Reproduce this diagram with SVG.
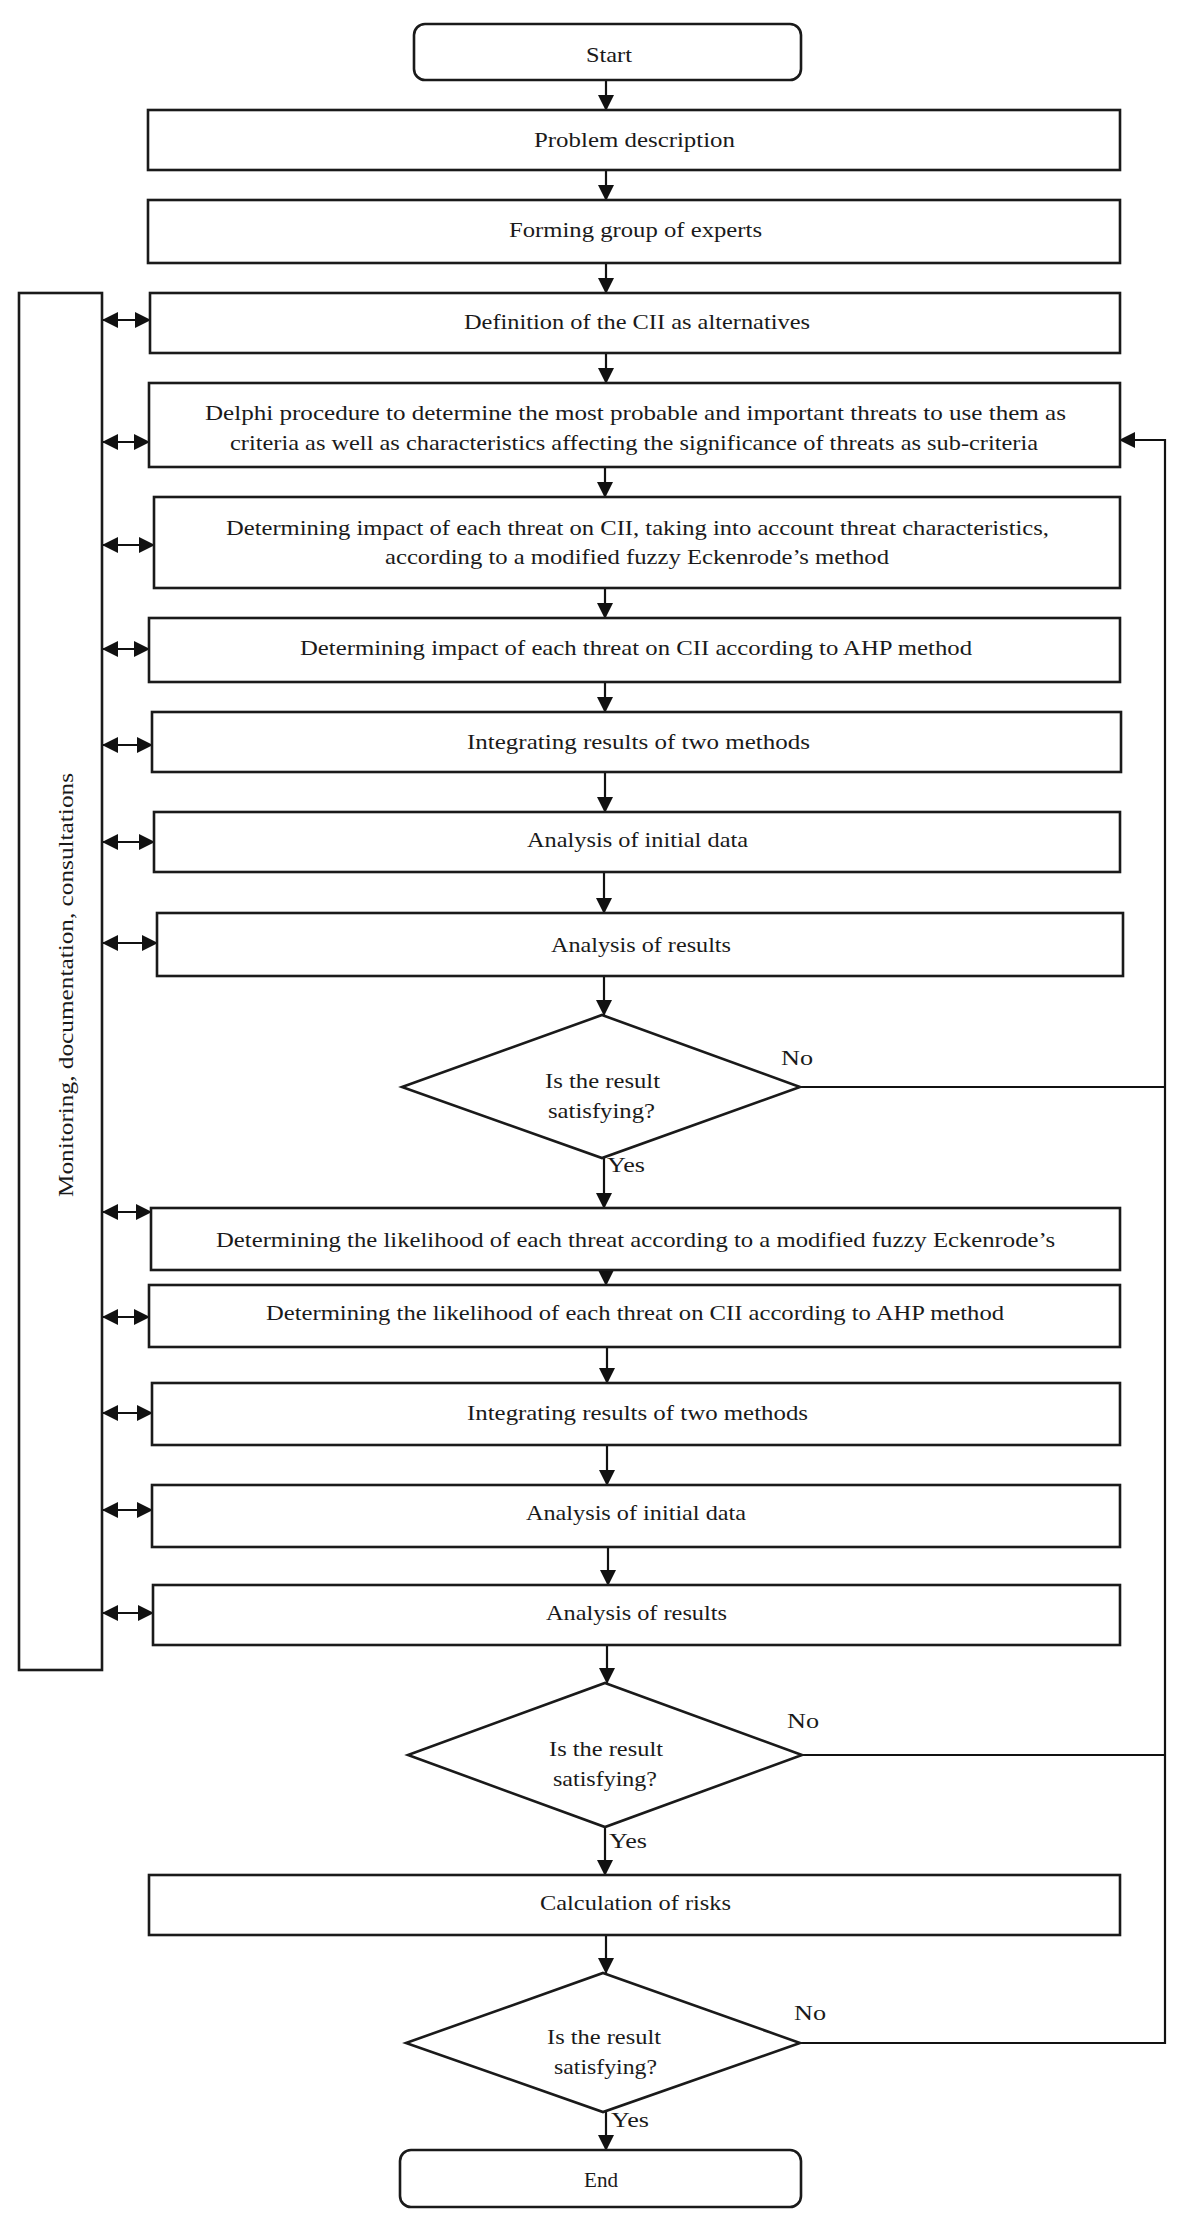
<svg xmlns="http://www.w3.org/2000/svg" width="1183" height="2224" viewBox="0 0 1183 2224">
<style>
.box{fill:#fff;stroke:#1a1a1a;stroke-width:2.6}
.ln{fill:none;stroke:#111;stroke-width:2.2}
.t{font-family:"Liberation Serif","Times New Roman",serif;font-size:22px;fill:#1a1a1a;text-anchor:middle}
.lb{font-family:"Liberation Serif","Times New Roman",serif;font-size:21px;fill:#1a1a1a}
</style>
<defs>
<marker id="ah" markerUnits="userSpaceOnUse" markerWidth="16" markerHeight="16" refX="15" refY="8" orient="auto-start-reverse">
<path d="M0,0 L16,8 L0,16 z" fill="#111"/>
</marker>
</defs>
<rect width="1183" height="2224" fill="#fff"/>

<g id="connectors">
<line class="ln" x1="606" y1="80" x2="606" y2="110" marker-end="url(#ah)"/>
<line class="ln" x1="606" y1="170" x2="606" y2="200" marker-end="url(#ah)"/>
<line class="ln" x1="606" y1="263" x2="606" y2="293" marker-end="url(#ah)"/>
<line class="ln" x1="606" y1="353" x2="606" y2="383" marker-end="url(#ah)"/>
<line class="ln" x1="605" y1="467" x2="605" y2="497" marker-end="url(#ah)"/>
<line class="ln" x1="605" y1="588" x2="605" y2="618" marker-end="url(#ah)"/>
<line class="ln" x1="605" y1="682" x2="605" y2="712" marker-end="url(#ah)"/>
<line class="ln" x1="605" y1="772" x2="605" y2="812" marker-end="url(#ah)"/>
<line class="ln" x1="604" y1="872" x2="604" y2="913" marker-end="url(#ah)"/>
<line class="ln" x1="604" y1="976" x2="604" y2="1015" marker-end="url(#ah)"/>
<line class="ln" x1="604" y1="1158" x2="604" y2="1208" marker-end="url(#ah)"/>
<line class="ln" x1="606" y1="1238" x2="606" y2="1285" marker-end="url(#ah)"/>
<line class="ln" x1="607" y1="1347" x2="607" y2="1383" marker-end="url(#ah)"/>
<line class="ln" x1="607" y1="1445" x2="607" y2="1485" marker-end="url(#ah)"/>
<line class="ln" x1="608" y1="1547" x2="608" y2="1585" marker-end="url(#ah)"/>
<line class="ln" x1="607" y1="1645" x2="607" y2="1683" marker-end="url(#ah)"/>
<line class="ln" x1="605" y1="1827" x2="605" y2="1875" marker-end="url(#ah)"/>
<line class="ln" x1="606" y1="1935" x2="606" y2="1973" marker-end="url(#ah)"/>
<line class="ln" x1="606" y1="2112" x2="606" y2="2150" marker-end="url(#ah)"/>
<!-- feedback -->
<polyline class="ln" points="800,2043 1165,2043 1165,440 1120,440" marker-end="url(#ah)"/>
<line class="ln" x1="800" y1="1087" x2="1165" y2="1087"/>
<line class="ln" x1="802" y1="1755" x2="1165" y2="1755"/>
<!-- double arrows to side panel -->
<line class="ln" x1="103" y1="320" x2="150" y2="320" marker-start="url(#ah)" marker-end="url(#ah)"/>
<line class="ln" x1="103" y1="442" x2="149" y2="442" marker-start="url(#ah)" marker-end="url(#ah)"/>
<line class="ln" x1="103" y1="545" x2="154" y2="545" marker-start="url(#ah)" marker-end="url(#ah)"/>
<line class="ln" x1="103" y1="649" x2="149" y2="649" marker-start="url(#ah)" marker-end="url(#ah)"/>
<line class="ln" x1="103" y1="745" x2="152" y2="745" marker-start="url(#ah)" marker-end="url(#ah)"/>
<line class="ln" x1="103" y1="842" x2="154" y2="842" marker-start="url(#ah)" marker-end="url(#ah)"/>
<line class="ln" x1="103" y1="943" x2="157" y2="943" marker-start="url(#ah)" marker-end="url(#ah)"/>
<line class="ln" x1="103" y1="1212" x2="151" y2="1212" marker-start="url(#ah)" marker-end="url(#ah)"/>
<line class="ln" x1="103" y1="1317" x2="149" y2="1317" marker-start="url(#ah)" marker-end="url(#ah)"/>
<line class="ln" x1="103" y1="1413" x2="152" y2="1413" marker-start="url(#ah)" marker-end="url(#ah)"/>
<line class="ln" x1="103" y1="1510" x2="152" y2="1510" marker-start="url(#ah)" marker-end="url(#ah)"/>
<line class="ln" x1="103" y1="1613" x2="153" y2="1613" marker-start="url(#ah)" marker-end="url(#ah)"/>
</g>

<g id="panel">
<rect class="box" x="19" y="293" width="83" height="1377"/>
<text class="t" font-size="25" textLength="424" lengthAdjust="spacingAndGlyphs" transform="translate(73,985) rotate(-90)">Monitoring, documentation, consultations</text>
</g>

<g id="start"><rect class="box" x="414" y="24" width="387" height="56" rx="11"/><text class="t" x="609" y="62" textLength="46" lengthAdjust="spacingAndGlyphs">Start</text></g>
<g id="problem"><rect class="box" x="148" y="110" width="972" height="60"/><text class="t" x="634.5" y="147" textLength="201" lengthAdjust="spacingAndGlyphs">Problem description</text></g>
<g id="forming"><rect class="box" x="148" y="200" width="972" height="63"/><text class="t" x="635.5" y="237" textLength="253" lengthAdjust="spacingAndGlyphs">Forming group of experts</text></g>
<g id="definition"><rect class="box" x="150" y="293" width="970" height="60"/><text class="t" x="637" y="329" textLength="346" lengthAdjust="spacingAndGlyphs">Definition of the CII as alternatives</text></g>
<g id="delphi"><rect class="box" x="149" y="383" width="971" height="84"/><text class="t" x="635.5" y="420" textLength="861" lengthAdjust="spacingAndGlyphs">Delphi procedure to determine the most probable and important threats to use them as</text><text class="t" x="634" y="450" textLength="808" lengthAdjust="spacingAndGlyphs">criteria as well as characteristics affecting the significance of threats as sub-criteria</text></g>
<g id="impact-fuzzy"><rect class="box" x="154" y="497" width="966" height="91"/><text class="t" x="637.5" y="535" textLength="823" lengthAdjust="spacingAndGlyphs">Determining impact of each threat on CII, taking into account threat characteristics,</text><text class="t" x="637" y="564" textLength="504" lengthAdjust="spacingAndGlyphs">according to a modified fuzzy Eckenrode’s method</text></g>
<g id="impact-ahp"><rect class="box" x="149" y="618" width="971" height="64"/><text class="t" x="636" y="655" textLength="672" lengthAdjust="spacingAndGlyphs">Determining impact of each threat on CII according to AHP method</text></g>
<g id="integrating-1"><rect class="box" x="152" y="712" width="969" height="60"/><text class="t" x="638.5" y="749" textLength="343" lengthAdjust="spacingAndGlyphs">Integrating results of two methods</text></g>
<g id="initial-1"><rect class="box" x="154" y="812" width="966" height="60"/><text class="t" x="637.5" y="847" textLength="221" lengthAdjust="spacingAndGlyphs">Analysis of initial data</text></g>
<g id="results-1"><rect class="box" x="157" y="913" width="966" height="63"/><text class="t" x="641" y="952" textLength="180" lengthAdjust="spacingAndGlyphs">Analysis of results</text></g>
<g id="decision-1"><polygon class="box" points="602,1015 800,1087 602,1158 402,1087"/><text class="t" x="602.5" y="1088" textLength="115" lengthAdjust="spacingAndGlyphs">Is the result</text><text class="t" x="601.5" y="1118" textLength="107" lengthAdjust="spacingAndGlyphs">satisfying?</text></g>
<g id="likelihood-fuzzy"><rect class="box" x="151" y="1208" width="969" height="62"/><text class="t" x="635.5" y="1247" textLength="839" lengthAdjust="spacingAndGlyphs">Determining the likelihood of each threat according to a modified fuzzy Eckenrode’s</text></g>
<g id="likelihood-ahp"><rect class="box" x="149" y="1285" width="971" height="62"/><text class="t" x="635" y="1320" textLength="738" lengthAdjust="spacingAndGlyphs">Determining the likelihood of each threat on CII according to AHP method</text></g>
<g id="integrating-2"><rect class="box" x="152" y="1383" width="968" height="62"/><text class="t" x="637.5" y="1420" textLength="341" lengthAdjust="spacingAndGlyphs">Integrating results of two methods</text></g>
<g id="initial-2"><rect class="box" x="152" y="1485" width="968" height="62"/><text class="t" x="636" y="1520" textLength="220" lengthAdjust="spacingAndGlyphs">Analysis of initial data</text></g>
<g id="results-2"><rect class="box" x="153" y="1585" width="967" height="60"/><text class="t" x="636.5" y="1620" textLength="181" lengthAdjust="spacingAndGlyphs">Analysis of results</text></g>
<g id="decision-2"><polygon class="box" points="605,1683 802,1755 605,1827 408,1755"/><text class="t" x="606" y="1756" textLength="114" lengthAdjust="spacingAndGlyphs">Is the result</text><text class="t" x="605" y="1786" textLength="104" lengthAdjust="spacingAndGlyphs">satisfying?</text></g>
<g id="calculation"><rect class="box" x="149" y="1875" width="971" height="60"/><text class="t" x="635.5" y="1910" textLength="191" lengthAdjust="spacingAndGlyphs">Calculation of risks</text></g>
<g id="decision-3"><polygon class="box" points="603,1973 800,2043 603,2112 406,2043"/><text class="t" x="604" y="2044" textLength="114" lengthAdjust="spacingAndGlyphs">Is the result</text><text class="t" x="605.5" y="2074" textLength="103" lengthAdjust="spacingAndGlyphs">satisfying?</text></g>
<g id="end"><rect class="box" x="400" y="2150" width="401" height="57" rx="11"/><text class="t" x="601" y="2187" textLength="34" lengthAdjust="spacingAndGlyphs">End</text></g>

<g id="labels">
<text class="lb" x="781" y="1065" textLength="32" lengthAdjust="spacingAndGlyphs">No</text>
<text class="lb" x="607" y="1172" textLength="38" lengthAdjust="spacingAndGlyphs">Yes</text>
<text class="lb" x="787" y="1728" textLength="32" lengthAdjust="spacingAndGlyphs">No</text>
<text class="lb" x="609" y="1848" textLength="38" lengthAdjust="spacingAndGlyphs">Yes</text>
<text class="lb" x="794" y="2020" textLength="32" lengthAdjust="spacingAndGlyphs">No</text>
<text class="lb" x="611" y="2127" textLength="38" lengthAdjust="spacingAndGlyphs">Yes</text>
</g>
</svg>
